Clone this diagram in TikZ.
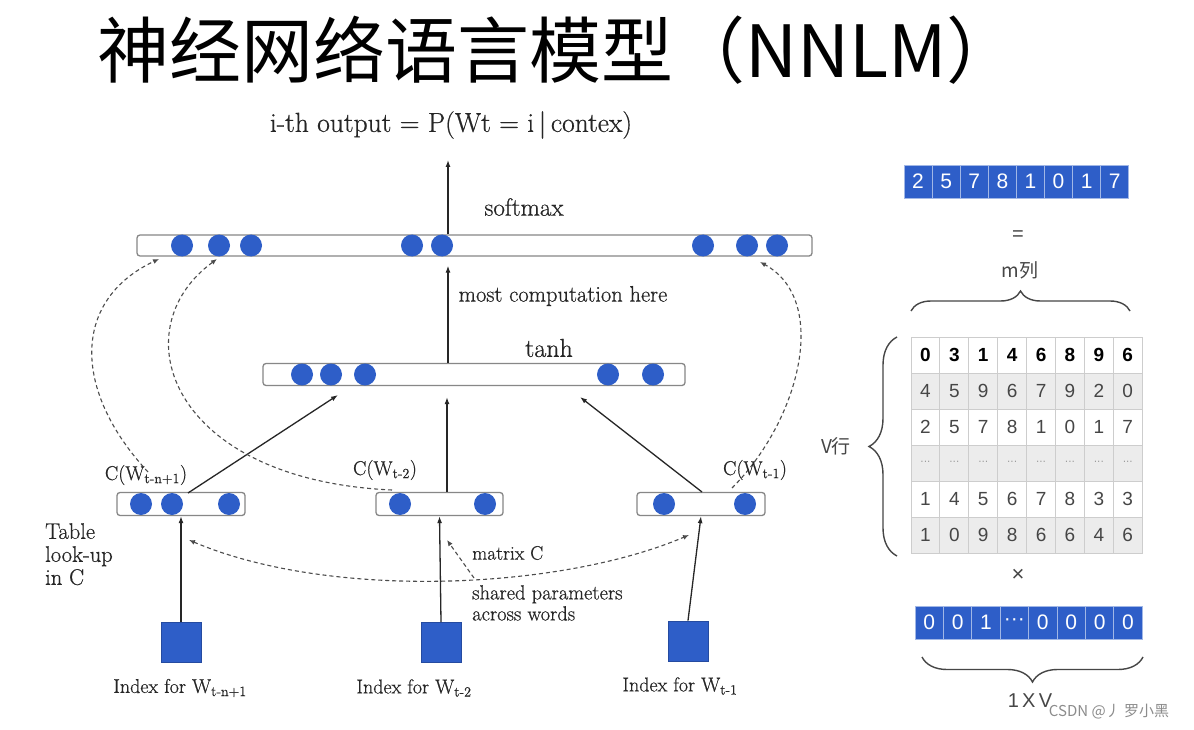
\documentclass[tikz,border=0pt]{standalone}
\usepackage{fontspec}
\newfontfamily\cjk{Noto Sans CJK SC}
\newfontfamily\sans{Liberation Sans}
\newfontfamily\lmb{Latin Modern Roman}[FakeBold=0.6]
\usetikzlibrary{arrows.meta,decorations.pathreplacing,calc}
\definecolor{nblue}{RGB}{46,94,200}
\definecolor{barline}{RGB}{135,135,135}
\definecolor{gridc}{RGB}{205,205,205}
\definecolor{rowgray}{RGB}{236,236,236}
\definecolor{txtgray}{RGB}{70,70,70}
\begin{document}
\begin{tikzpicture}[x=1pt,y=-1pt,
  bar/.style={draw=barline, line width=1.3pt, rounded corners=3pt, fill=white, inner sep=0pt, minimum height=22pt},
  unit/.style={circle, fill=nblue, minimum size=22pt, inner sep=0pt},
  arr/.style={-{Latex[length=7pt,width=5pt]}, line width=1.3pt, draw=black!85},
  darr/.style={-{Latex[length=6pt,width=5pt]}, line width=1.1pt, draw=black!70, dash pattern=on 4pt off 3pt},
  lbl/.style={font=\lmb\fontsize{21}{24}\selectfont, inner sep=0pt, text=black!85},
  sq/.style={fill=nblue, draw=nblue!80!black, line width=0.8pt, minimum width=40pt, minimum height=40pt, inner sep=0pt},
  bcell/.style={minimum width=28.2pt, minimum height=33pt, inner sep=0pt, fill=nblue, draw=white!55!nblue, line width=0.8pt, text=white, font=\sans\fontsize{21}{21}\selectfont},
  mcell/.style={minimum width=28.9pt, minimum height=36pt, inner sep=0pt, draw=gridc, line width=1pt, font=\sans\fontsize{19}{19}\selectfont},
  brc/.style={decorate, decoration={brace, amplitude=#1}, draw=txtgray, line width=1.4pt},
  rtxt/.style={text=txtgray, inner sep=0pt}
]
\useasboundingbox[fill=white] (0,0) rectangle (1194,730);

% title
\node[font=\cjk\fontsize{72}{72}\selectfont, inner sep=0pt, anchor=west] (title) at (97,50) {神经网络语言模型（NNLM）};

% bars
\node[bar, minimum width=675pt, minimum height=21pt] (top) at (474.5,245.5) {};
\node[bar, minimum width=422pt] (tanh) at (474,374.5) {};
\node[bar, minimum width=128pt, minimum height=23pt] (embL) at (181,504) {};
\node[bar, minimum width=127pt, minimum height=23pt] (embM) at (439.5,504) {};
\node[bar, minimum width=128pt, minimum height=23pt] (embR) at (701,504) {};

% units
\foreach \x [count=\i] in {182,219,251,412,442,703,747,777}
  \node[unit] (tu\i) at (\x,245.5) {};
\foreach \x [count=\i] in {302,331,365,608,653}
  \node[unit] (hu\i) at (\x,374.5) {};
\foreach \x [count=\i] in {141,172,229}
  \node[unit] (lu\i) at (\x,504) {};
\foreach \x [count=\i] in {400,485}
  \node[unit] (mu\i) at (\x,504) {};
\foreach \x [count=\i] in {664,745}
  \node[unit] (ru\i) at (\x,504) {};

% squares
\node[sq] (sqL) at (181,642) {};
\node[sq] (sqM) at (441,642.5) {};
\node[sq] (sqR) at (688,641) {};

% coordinates
\coordinate (outtip) at (448,160);
\coordinate (midx) at (447,0);
\coordinate (lstart) at (188,493);
\coordinate (lend) at (338,395);
\coordinate (rstart) at (702,492);
\coordinate (rend) at (580,397);
\coordinate (hub) at (474,578);
\coordinate (lcTip) at (189,540);
\coordinate (rcTip) at (689,535);
\coordinate (mcTip) at (447,540);

% solid arrows
\draw[arr] (top.north -| outtip) -- (outtip);
\draw[arr, shorten >=9pt] (tanh.north -| outtip) -- (top.south -| outtip);
\draw[arr, shorten >=11pt] (embM.north -| midx) -- (tanh.south -| midx);
\draw[arr] (lstart) -- (lend);
\draw[arr] (rstart) -- (rend);
\draw[arr] (sqL.north) -- (embL.south);
\draw[arr] (sqM.north) -- (embM.south);
\draw[arr] (sqR.north) -- (embR.south);

% dashed curves
\coordinate (d1s) at (148,472);
\coordinate (d1e) at (159,259);
\coordinate (d2s) at (392,490);
\coordinate (d2e) at (217,259);
\coordinate (d3s) at (732,488);
\coordinate (d3e) at (760,262);
\draw[darr] (d1s) .. controls (72,390) and (72,300) .. (d1e);
\draw[darr] (d2s) .. controls (170,480) and (120,330) .. (d2e);
\draw[darr] (d3s) .. controls (800,420) and (830,300) .. (d3e);
\draw[darr, {Latex[length=6pt,width=5pt]}-{Latex[length=6pt,width=5pt]}] (lcTip) .. controls (330,600) and (560,590) .. (rcTip);
\draw[darr] (hub) -- (mcTip);

% labels
\node[lbl, font=\lmb\fontsize{27.5}{30}\selectfont] (outlbl) at (451,125) {i-th output = P(Wt = i\,|\,contex)};
\node[lbl, font=\lmb\fontsize{25}{28}\selectfont] (softlbl) at (524,207) {softmax};
\node[lbl, font=\lmb\fontsize{22.5}{25}\selectfont] (complbl) at (563,296) {most computation here};
\node[lbl, font=\lmb\fontsize{26}{28}\selectfont] (tanhlbl) at (549,348) {tanh};
\node[lbl, font=\lmb\fontsize{20}{23}\selectfont] (cwl) at (146,475) {C(W\textsubscript{t-n+1})};
\node[lbl, font=\lmb\fontsize{20}{23}\selectfont] (cwm) at (385,470) {C(W\textsubscript{t-2})};
\node[lbl, font=\lmb\fontsize{20}{23}\selectfont] (cwr) at (755,470) {C(W\textsubscript{t-1})};
\node[lbl, anchor=north west, align=left, font=\lmb\fontsize{22.5}{23}\selectfont] (tbl) at (45,523) {Table\\look-up\\in C};
\node[lbl, anchor=west, font=\lmb\fontsize{19.5}{22}\selectfont] (matc) at (472,553) {matrix C};
\node[lbl, anchor=north west, align=left, font=\lmb\fontsize{20.5}{21}\selectfont] (shared) at (472,585) {shared parameters\\across words};
\node[lbl, font=\lmb\fontsize{20}{20}\selectfont] (ixL) at (180,688) {Index for W\textsubscript{t-n+1}};
\node[lbl, font=\lmb\fontsize{20}{20}\selectfont] (ixM) at (414,688) {Index for W\textsubscript{t-2}};
\node[lbl, font=\lmb\fontsize{20}{20}\selectfont] (ixR) at (680,686) {Index for W\textsubscript{t-1}};

% right panel: result row
\foreach \d [count=\i] in {2,5,7,8,1,0,1,7}
  \node[bcell] (v\i) at ({904+28.1*(\i-0.5)},181.5) {\d};
\node[rtxt, font=\sans\fontsize{20}{20}\selectfont] (eq) at (1018,236) {=};
\node[rtxt, font=\cjk\fontsize{19}{19}\selectfont] (mcol) at (1020,270) {m列};
\draw[brc=20pt] (911,311) -- (1130,311);

% matrix
\foreach \row/\fc/\ft [count=\r] in {
  {0,3,1,4,6,8,9,6}/white/\bfseries\color{black},
  {4,5,9,6,7,9,2,0}/rowgray/\color{txtgray},
  {2,5,7,8,1,0,1,7}/white/\color{txtgray},
  {···,···,···,···,···,···,···,···}/rowgray/\fontsize{10}{10}\selectfont\color{gray},
  {1,4,5,6,7,8,3,3}/white/\color{txtgray},
  {1,0,9,8,6,6,4,6}/rowgray/\color{txtgray}}
{
  \foreach \d [count=\c] in \row
    \node[mcell, fill=\fc] (m\r-\c) at ({911+28.9*(\c-0.5)},{337+36*(\r-0.5)}) {\ft\d};
}
\draw[brc=28pt] (897,556) -- (897,337);
\node[rtxt, font=\cjk\fontsize{19}{19}\selectfont] (vrow) at (836,446) {V行};
\node[rtxt, font=\sans\fontsize{22}{22}\selectfont] (times) at (1018,575) {×};

% one-hot row
\foreach \d [count=\i] in {0,0,1,···,0,0,0,0}
  \node[bcell, minimum width=28.4pt] (o\i) at ({915+28.4*(\i-0.5)},622.5) {\d};
\draw[brc=25pt] (1143,657) -- (922,657);
\node[rtxt, font=\sans\fontsize{20}{20}\selectfont] (onexv) at (1030,701) {1\,X\,V};

% watermark
\node[font=\cjk\fontsize{15}{15}\selectfont, text=black!45, inner sep=0pt] (wm) at (1109,712) {CSDN @丿 罗小黑};
\end{tikzpicture}
\end{document}
